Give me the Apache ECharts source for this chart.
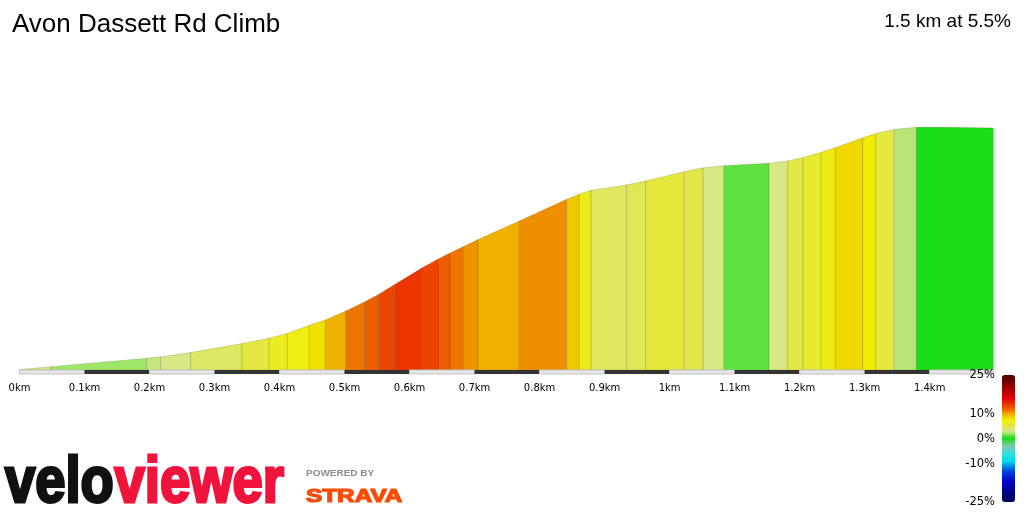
<!DOCTYPE html>
<html>
<head>
<meta charset="utf-8">
<script src="https://cdn.jsdelivr.net/npm/echarts@6/dist/echarts.min.js"></script>
<style>
  html, body { margin: 0; padding: 0; background: #fff; }
  #main { width: 1024px; height: 512px; }
</style>
</head>
<body>
<div id="main"></div>
<script>
// segment boundaries (km) and elevation at each boundary (m)
var distKm = [0, 0.0485, 0.1957, 0.2172, 0.2633, 0.3423, 0.3842, 0.4119, 0.4458, 0.4704,
  0.5022, 0.5304, 0.5522, 0.5765, 0.6188, 0.6456, 0.6622, 0.6831, 0.7053, 0.7688,
  0.8417, 0.8611, 0.8791, 0.9340, 0.9632, 1.0226, 1.0514, 1.0837, 1.1529, 1.1817,
  1.2052, 1.2334, 1.2549, 1.2970, 1.3170, 1.3456, 1.3795, 1.4210, 1.4979];
var elevM = [95.2, 96.1, 98.9, 99.4, 100.8, 103.8, 105.6, 107.2, 109.9, 111.7,
  114.7, 117.7, 120.2, 123.4, 129.0, 132.2, 134.0, 136.2, 138.5, 144.7,
  151.9, 153.6, 154.9, 156.7, 158.0, 161.1, 162.4, 163.1, 163.9, 164.7,
  165.8, 167.6, 169.1, 172.4, 173.8, 175.2, 175.9, 175.9, 175.7];
// gradient of each segment (%)
var gradePct = [3.0, 1.9, 2.6, 3.4, 4.2, 5.0, 6.3, 7.0, 7.8, 9.5,
  11.0, 11.8, 12.6, 13.5, 12.7, 11.8, 11.0, 10.3, 9.5, 10.4,
  8.7, 6.5, 4.3, 4.5, 5.2, 4.8, 3.4, 1.2, 3.4, 4.8,
  5.8, 6.8, 8.1, 7.4, 5.0, 2.3, 0.0, 0.0];
var kmTicks = [0, 0.1, 0.2, 0.3, 0.4, 0.5, 0.6, 0.7, 0.8, 0.9, 1.0, 1.1, 1.2, 1.3, 1.4];
var legendTicks = [25, 10, 0, -10, -25];

// colour scale for gradient
var gradeStops = [-25, -17, -13, -9, -6, -3, 0, 1.2, 2, 2.3, 2.6, 3.4, 4.3, 5, 6, 7, 7.5, 8, 8.7, 9.5, 10.3, 11, 11.8, 12.5, 13.5, 16, 20, 25];
var colorStops = ['#000050', '#0000c8', '#0040e8', '#00d8e8', '#30e0e0', '#80c8b0', '#18de18', '#5ae23e',
  '#a8e66e', '#b8e67a', '#c6e67e', '#d9e88a', '#e0e860', '#e4e840', '#e8ea28', '#eeee10', '#f0ec00',
  '#f0dc00', '#f0c800', '#f0b000', '#ef9400', '#ee7600', '#ec5e00', '#ec4800', '#ec3400', '#e00000',
  '#a00000', '#4a0000'];

function gradeColor(g) {
  if (g <= gradeStops[0]) return colorStops[0];
  for (var i = 1; i < gradeStops.length; i++) {
    if (g <= gradeStops[i]) {
      var t = (g - gradeStops[i - 1]) / (gradeStops[i] - gradeStops[i - 1]);
      var a = echarts.color.parse(colorStops[i - 1]);
      var b = echarts.color.parse(colorStops[i]);
      return 'rgb(' + Math.round(a[0] + (b[0] - a[0]) * t) + ',' +
        Math.round(a[1] + (b[1] - a[1]) * t) + ',' +
        Math.round(a[2] + (b[2] - a[2]) * t) + ')';
    }
  }
  return colorStops[colorStops.length - 1];
}

var legendColors = [];
for (var g = -25; g <= 25; g += 0.5) legendColors.push(gradeColor(g));

var yMin = 95, yMax = 185;
var total = distKm[distKm.length - 1];

var segData = [];
for (var i = 0; i < gradePct.length; i++) {
  segData.push([distKm[i], distKm[i + 1], elevM[i], elevM[i + 1], gradePct[i]]);
}
var bandEdges = kmTicks.concat([total]);
var bandData = [];
for (var j = 0; j < bandEdges.length - 1; j++) {
  bandData.push([bandEdges[j], bandEdges[j + 1], j]);
}

var barTop = 375, barH = 127;
var legendText = legendTicks.map(function (v) {
  return {
    type: 'text', z: 100,
    x: 995,
    y: barTop + (25 - v) / 50 * barH + 0.5,
    style: {
      text: v + '%', textAlign: 'right', textVerticalAlign: 'middle',
      font: '11.5px "DejaVu Sans"', fill: '#000'
    }
  };
});

var myChart = echarts.init(document.getElementById('main'));
var option = {
  backgroundColor: '#fff',
  animation: false,
  title: [
    {
      text: 'Avon Dassett Rd Climb', left: 12, top: 12, padding: 0,
      textStyle: { fontFamily: 'Liberation Sans', fontSize: 26, fontWeight: 'normal', color: '#000' }
    },
    {
      text: '1.5 km at 5.5%', right: 13, top: 12, padding: 0,
      textStyle: { fontFamily: 'Liberation Sans', fontSize: 19, fontWeight: 'normal', color: '#000' }
    }
  ],
  grid: { left: 19.5, right: 1024 - 993.3, top: 100, bottom: 142 },
  xAxis: {
    type: 'value', min: 0, max: total, interval: 0.1,
    axisLine: { show: false }, axisTick: { show: false }, splitLine: { show: false },
    axisLabel: {
      showMaxLabel: false, margin: 13,
      fontFamily: 'DejaVu Sans', fontSize: 10, color: '#000',
      formatter: function (v) { return (Math.round(v * 10) / 10) + 'km'; }
    }
  },
  yAxis: { type: 'value', min: yMin, max: yMax, show: false },
  visualMap: {
    type: 'continuous', seriesIndex: 0, dimension: 4,
    min: -25, max: 25, calculable: false,
    left: 1002, top: barTop, itemWidth: 13, itemHeight: barH, padding: 0,
    inRange: { color: legendColors }
  },
  graphic: legendText.concat([
    {
      type: 'text', x: 5, y: 484, scaleX: 0.85,
      style: {
        text: 'velo', font: 'bold 64px "Liberation Sans"', fill: '#111',
        stroke: '#111', lineWidth: 3, textVerticalAlign: 'middle'
      }
    },
    {
      type: 'text', x: 114.6, y: 484, scaleX: 0.85,
      style: {
        text: 'viewer', font: 'bold 64px "Liberation Sans"', fill: '#f0133c',
        stroke: '#f0133c', lineWidth: 3, textVerticalAlign: 'middle'
      }
    },
    {
      type: 'text', x: 306, y: 473, scaleX: 1.05,
      style: { text: 'POWERED BY', font: 'bold 9.5px "Liberation Sans"', fill: '#8c8c8c', textVerticalAlign: 'middle' }
    },
    {
      type: 'text', x: 306, y: 496.5, scaleX: 1.28,
      style: {
        text: 'STRAVA', font: 'bold 19px "Liberation Sans"', fill: '#fc4c02',
        stroke: '#fc4c02', lineWidth: 1.2, textVerticalAlign: 'middle'
      }
    }
  ]),
  series: [
    {
      type: 'custom',
      data: segData,
      encode: { x: [0, 1], y: [2, 3] },
      renderItem: function (params, api) {
        var a = api.coord([api.value(0), api.value(2)]);
        var b = api.coord([api.value(1), api.value(3)]);
        var b0 = api.coord([api.value(0), yMin]);
        var b1 = api.coord([api.value(1), yMin]);
        return {
          type: 'polygon',
          shape: { points: [b0, a, b, b1] },
          style: { fill: api.visual('color'), stroke: 'rgba(60,60,0,0.18)', lineWidth: 1 }
        };
      }
    },
    {
      type: 'custom',
      data: bandData,
      encode: { x: [0, 1] },
      renderItem: function (params, api) {
        var p0 = api.coord([api.value(0), yMin]);
        var p1 = api.coord([api.value(1), yMin]);
        var dark = api.value(2) % 2 === 1;
        return {
          type: 'rect',
          shape: { x: p0[0], y: p0[1], width: p1[0] - p0[0], height: 4 },
          style: dark ? { fill: '#333' } : { fill: '#e6e6e6', stroke: '#c4c4c4', lineWidth: 1 }
        };
      }
    }
  ]
};
myChart.setOption(option);
</script>
</body>
</html>
